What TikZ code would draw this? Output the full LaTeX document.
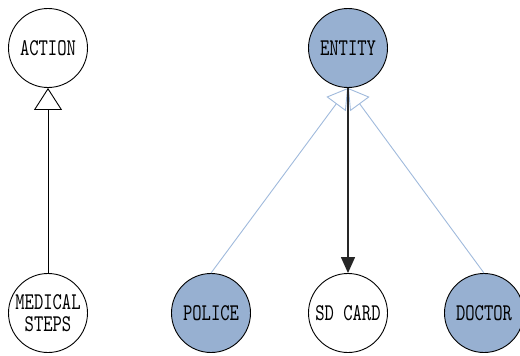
\documentclass[tikz,border=0pt]{standalone}
\usepackage{fontspec}
\setmainfont[FakeStretch=0.74]{lmmono10-regular.otf}
\usetikzlibrary{arrows.meta}
\definecolor{nodeblue}{RGB}{151,176,209}
\definecolor{linkblue}{RGB}{160,186,220}
\tikzset{
  concept/.style={circle, draw=black, line width=0.9pt, minimum size=79pt, inner sep=0pt,
    align=center, font=\fontsize{24pt}{24pt}\selectfont},
  shaded/.style={concept, fill=nodeblue},
  inherit/.style={draw=black, line width=0.9pt, -{Triangle[open, width=28pt, length=22pt]}},
  inheritblue/.style={draw=linkblue, line width=0.9pt, -{Triangle[open, width=24pt, length=20pt]}},
  assoc/.style={draw=black!85, line width=1.4pt, -{Triangle[width=14pt, length=16pt]}}
}
\begin{document}
\begin{tikzpicture}[x=1pt, y=-1pt]
  \useasboundingbox (0,0) rectangle (520,356);
  \node[concept] (action) at (48,48) {ACTION};
  \node[shaded]  (entity) at (348,48) {ENTITY};
  \node[concept] (medical) at (48,313) {MEDICAL\\[-2pt]STEPS};
  \node[shaded]  (police) at (211,313) {POLICE};
  \node[concept] (sdcard) at (348,313) {SD CARD};
  \node[shaded]  (doctor) at (484,313) {DOCTOR};

  \draw[inherit] (medical) -- (action);
  \draw[inheritblue] (police.north) -- (entity.south);
  \draw[inheritblue] (doctor.north) -- (entity.south);
  \draw[assoc] (entity) -- (sdcard);
\end{tikzpicture}
\end{document}
